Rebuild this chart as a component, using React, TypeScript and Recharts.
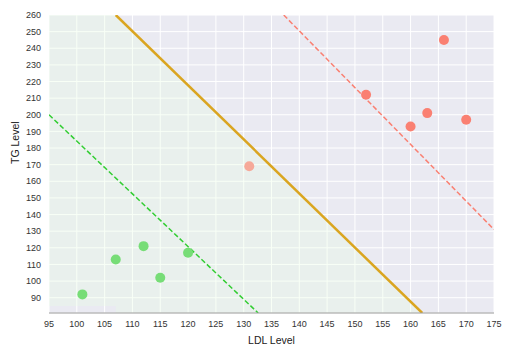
import React from 'react';
import {
  ComposedChart,
  Area,
  Line,
  Scatter,
  XAxis,
  YAxis,
  CartesianGrid,
} from 'recharts';

// points
const lowRisk = [
  { ldl: 101, tg: 92 },
  { ldl: 107, tg: 113 },
  { ldl: 112, tg: 121 },
  { ldl: 115, tg: 102 },
  { ldl: 120, tg: 117 },
];
const midRisk = [{ ldl: 131, tg: 169 }];
const highRisk = [
  { ldl: 152, tg: 212 },
  { ldl: 160, tg: 193 },
  { ldl: 163, tg: 201 },
  { ldl: 166, tg: 245 },
  { ldl: 170, tg: 197 },
];

// boundary lines (end points at the plot edges)
const mainBoundary = [
  { ldl: 107, tg: 260 },
  { ldl: 162.1, tg: 80.8 },
];
const lowerBoundary = [
  { ldl: 95, tg: 200 },
  { ldl: 132.6, tg: 80.8 },
];
const upperBoundary = [
  { ldl: 137.2, tg: 260 },
  { ldl: 175, tg: 131 },
];

// shaded band below the main boundary
const safeZone = [
  { ldl: 95, band: [85, 260] },
  { ldl: 107, band: [85, 260] },
  { ldl: 107, band: [80.8, 260] },
  { ldl: 162.1, band: [80.8, 80.8] },
];

const xTicks = [95, 100, 105, 110, 115, 120, 125, 130, 135, 140, 145, 150, 155, 160, 165, 170, 175];
const yTicks = [90, 100, 110, 120, 130, 140, 150, 160, 170, 180, 190, 200, 210, 220, 230, 240, 250, 260];

const font = '"Liberation Sans", Arial, sans-serif';
const tickStyle = { fontSize: 9, fill: '#333', fontFamily: font };

export default function App() {
  return (
    <div style={{ position: 'absolute', left: 0, top: 0, background: '#fff' }}>
      <ComposedChart
        width={512}
        height={353}
        margin={{ top: 15, right: 18, bottom: 0, left: 0 }}
      >
        <CartesianGrid stroke="#ffffff" strokeWidth={1} fill="#eaeaf2" />
        <XAxis
          type="number"
          dataKey="ldl"
          domain={[95, 175]}
          ticks={xTicks}
          interval={0}
          allowDataOverflow
          tickLine={false}
          axisLine={{ stroke: '#999', strokeWidth: 1.2 }}
          tick={tickStyle}
          height={40}
          label={{ value: 'LDL Level', position: 'insideBottom', offset: 9, fontSize: 10.5, fill: '#222', fontFamily: font }}
        />
        <YAxis
          type="number"
          dataKey="tg"
          domain={[80.8, 260]}
          ticks={yTicks}
          interval={0}
          allowDataOverflow
          tickLine={false}
          axisLine={false}
          tick={tickStyle}
          width={49}
          label={{ value: 'TG Level', angle: -90, position: 'insideLeft', offset: 15, fontSize: 10.5, fill: '#222', fontFamily: font }}
        />
        <Area
          data={safeZone}
          dataKey="band"
          type="linear"
          stroke="none"
          fill="rgb(231,254,225)"
          fillOpacity={0.3}
          isAnimationActive={false}
          activeDot={false}
        />
        <Line
          data={mainBoundary}
          dataKey="tg"
          type="linear"
          stroke="#daa520"
          strokeWidth={2.5}
          dot={false}
          activeDot={false}
          isAnimationActive={false}
        />
        <Line
          data={lowerBoundary}
          dataKey="tg"
          type="linear"
          stroke="#32cd32"
          strokeWidth={1.5}
          strokeDasharray="5 2.5"
          dot={false}
          activeDot={false}
          isAnimationActive={false}
        />
        <Line
          data={upperBoundary}
          dataKey="tg"
          type="linear"
          stroke="#fa8072"
          strokeWidth={1.5}
          strokeDasharray="5 2.5"
          dot={false}
          activeDot={false}
          isAnimationActive={false}
        />
        <Scatter data={lowRisk} dataKey="tg" fill="#77dd77" shape={(p: any) => <circle cx={p.cx} cy={p.cy} r={5} fill="#77dd77" />} isAnimationActive={false} />
        <Scatter data={midRisk} dataKey="tg" fill="#f6a999" shape={(p: any) => <circle cx={p.cx} cy={p.cy} r={5} fill="#f6a999" />} isAnimationActive={false} />
        <Scatter data={highRisk} dataKey="tg" fill="#fa8072" shape={(p: any) => <circle cx={p.cx} cy={p.cy} r={5} fill="#fa8072" />} isAnimationActive={false} />
      </ComposedChart>
    </div>
  );
}
